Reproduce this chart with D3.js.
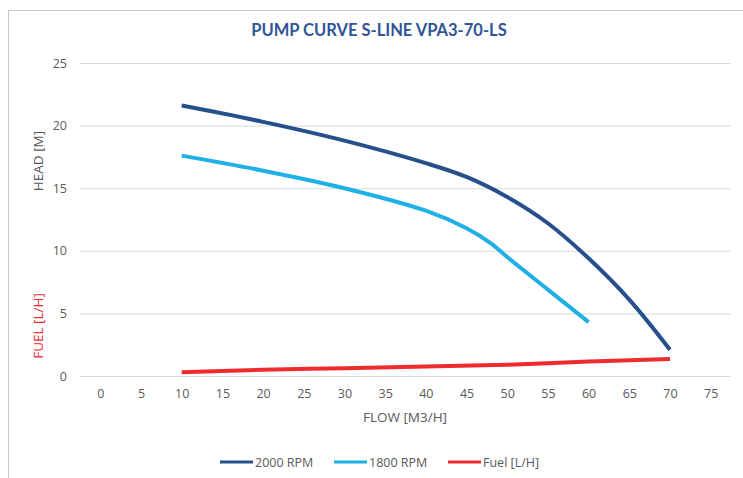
<!DOCTYPE html>
<html>
<head>
<meta charset="utf-8">
<script src="https://cdn.jsdelivr.net/npm/d3@7"></script>
<style>
  body { margin: 0; background: #fff; }
  svg { display: block; font-family: "Open Sans", "Noto Sans", sans-serif; }
</style>
</head>
<body>
<svg id="chart" width="743" height="478"></svg>
<script>
// category labels on the flow axis
const flowTicks = [0, 5, 10, 15, 20, 25, 30, 35, 40, 45, 50, 55, 60, 65, 70, 75]
const headTicks = [0, 5, 10, 15, 20, 25]

// 2000 rpm curve
const flow2000 = [10, 20, 30, 40, 45, 50, 55, 60, 65, 70]
const head2000 = [21.6, 20.3, 18.8, 17.0, 15.9, 14.3, 12.2, 9.4, 6.1, 2.1]

// 1800 rpm curve
const flow1800 = [10, 20, 30, 40, 45, 48, 50, 55, 60]
const head1800 = [17.6, 16.4, 15.0, 13.2, 11.8, 10.6, 9.5, 6.9, 4.3]

// fuel consumption
const flowFuel = [10, 20, 30, 40, 50, 60, 70]
const fuel = [0.3, 0.5, 0.62, 0.75, 0.9, 1.15, 1.35]

const seriesNames = ['2000 RPM', '1800 RPM', 'Fuel [L/H]']
const seriesColors = ['#264f8c', '#1fb0e6', '#ee2b2f']

const svg = d3.select('#chart')

// chart area border
svg.append('rect')
  .attr('x', 8.5).attr('y', 10.5)
  .attr('width', 760).attr('height', 500)
  .attr('fill', 'none')
  .attr('stroke', '#c8c8c8')

const plotLeft = 80, plotRight = 731, plotTop = 63, plotBottom = 376
// category axis: each category takes one band, values sit in the middle
const x = d3.scaleLinear().domain([-2.5, 77.5]).range([plotLeft, plotRight])
const y = d3.scaleLinear().domain([0, 25]).range([plotBottom, plotTop])

// gridlines
svg.append('g')
  .selectAll('line')
  .data(headTicks)
  .join('line')
  .attr('x1', plotLeft).attr('x2', plotRight)
  .attr('y1', d => y(d) + 0.5).attr('y2', d => y(d) + 0.5)
  .attr('stroke', '#d9d9d9')
  .attr('stroke-width', 1)

// y axis labels
const yAxis = svg.append('g')
  .attr('transform', `translate(${plotLeft - 13},0)`)
  .call(d3.axisLeft(y).tickValues(headTicks).tickSize(0).tickPadding(0))
yAxis.select('.domain').remove()
yAxis.selectAll('text')
  .attr('fill', '#595959')
  .attr('font-size', 12.5)
  .attr('font-family', '"Open Sans", sans-serif')

// x axis labels
const xAxis = svg.append('g')
  .attr('transform', `translate(0,${plotBottom + 13})`)
  .call(d3.axisBottom(x).tickValues(flowTicks).tickSize(0).tickPadding(0))
xAxis.select('.domain').remove()
xAxis.selectAll('text')
  .attr('fill', '#595959')
  .attr('font-size', 12.5)
  .attr('font-family', '"Open Sans", sans-serif')

// title
svg.append('text')
  .attr('x', 379).attr('y', 36)
  .attr('text-anchor', 'middle')
  .attr('font-size', 16.5)
  .attr('font-weight', 'bold')
  .attr('fill', '#2f5597')
  .attr('font-family', 'Lato, "Open Sans", sans-serif')
  .text('PUMP CURVE S-LINE VPA3-70-LS')

// axis titles
svg.append('text')
  .attr('x', 405).attr('y', 422)
  .attr('text-anchor', 'middle')
  .attr('font-size', 13.5)
  .attr('fill', '#595959')
  .text('FLOW [M3/H]')

svg.append('text')
  .attr('transform', 'translate(43,161) rotate(-90)')
  .attr('text-anchor', 'middle')
  .attr('font-size', 13.5)
  .attr('fill', '#595959')
  .text('HEAD [M]')

svg.append('text')
  .attr('transform', 'translate(43,326) rotate(-90)')
  .attr('text-anchor', 'middle')
  .attr('font-size', 13.5)
  .attr('fill', '#ee2b2f')
  .text('FUEL [L/H]')

// curves
const line = d3.line()
  .x(d => x(d[0]))
  .y(d => y(d[1]))
  .curve(d3.curveCatmullRom.alpha(0.5))

const series = [
  d3.zip(flow2000, head2000),
  d3.zip(flow1800, head1800),
  d3.zip(flowFuel, fuel)
]

svg.append('g')
  .selectAll('path')
  .data(series)
  .join('path')
  .attr('d', line)
  .attr('fill', 'none')
  .attr('stroke', (d, i) => seriesColors[i])
  .attr('stroke-width', 4)

// legend
const legendX = [220, 334, 448]
const legend = svg.append('g')
  .selectAll('g')
  .data(seriesNames)
  .join('g')
  .attr('transform', (d, i) => `translate(${legendX[i]},462)`)
legend.append('line')
  .attr('x1', 0).attr('x2', 33)
  .attr('stroke', (d, i) => seriesColors[i])
  .attr('stroke-width', 3)
legend.append('text')
  .attr('x', 35).attr('y', 4.5)
  .attr('font-size', 12.5)
  .attr('fill', '#595959')
  .text(d => d)
</script>
</body>
</html>
